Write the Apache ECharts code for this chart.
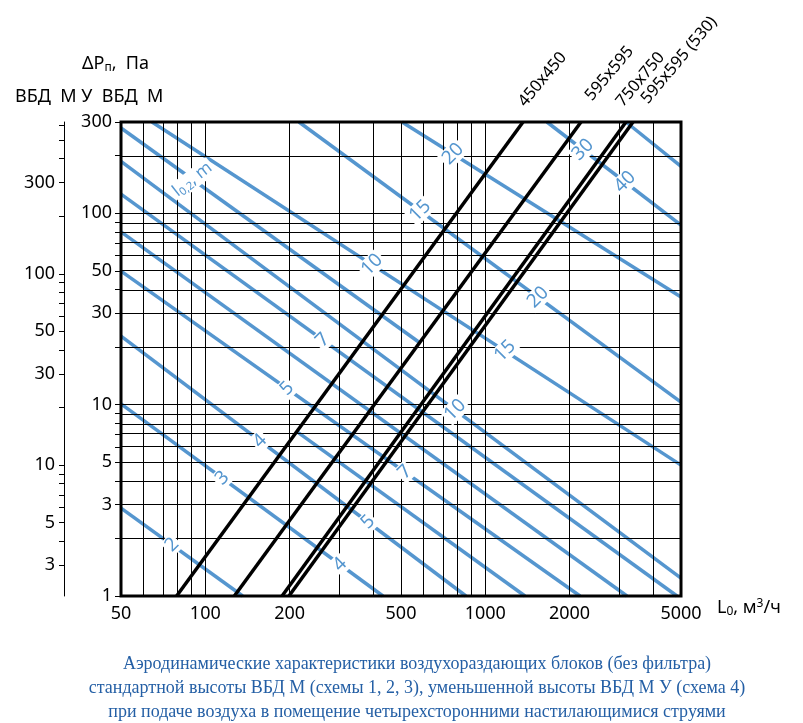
<!DOCTYPE html>
<html><head><meta charset="utf-8">
<script src="https://cdn.jsdelivr.net/npm/echarts@6/dist/echarts.min.js"></script>
<style>html,body{margin:0;padding:0;background:#fff}#c{width:803px;height:723px}</style>
</head><body><div id="c"></div>
<script>
// ---- data ----
const xLabelValues = [50, 100, 200, 500, 1000, 2000, 5000];
const xGridValues = [60, 70, 80, 90, 100, 200, 300, 400, 500, 600, 700, 800, 900, 1000, 2000, 3000, 4000];
const yLabelValues = [1, 3, 5, 10, 30, 50, 100, 300];
const yGridValues = [2, 3, 4, 5, 6, 7, 8, 9, 10, 20, 30, 40, 50, 60, 70, 80, 90, 100, 200];
const yTickValues = [1, 2, 3, 4, 5, 6, 7, 8, 9, 10, 20, 30, 40, 50, 60, 70, 80, 90, 100, 200, 300];
const y2LabelValues = [3, 5, 10, 30, 50, 100, 300];
const y2TickValues = [3, 4, 5, 6, 7, 8, 9, 10, 20, 30, 40, 50, 60, 70, 80, 90, 100, 200, 300, 400, 500, 600];
const xRange = [50, 5000];
const yRange = [1, 300];
const y2Range = [2.07, 621];

// unit characteristic lines: [L, dP] at the two ends
const unitNames = ['450x450', '595x595', '750x750', '595x595 (530)'];
const unitLines = [
  [[79, 1], [1364, 300]],
  [[127, 1], [2197, 300]],
  [[188, 1], [3180, 300]],
  [[199, 1], [3370, 300]]
];

// throw lines l0,2 (blue): [L, dP] at both ends
const throwLines = [
  [[50, 2.88], [136, 1]],
  [[50, 10.1], [431, 1]],
  [[50, 22.8], [853, 1]],
  [[50, 49.9], [2180, 1]],
  [[50, 80], [3206, 1]],
  [[50, 126], [4838, 1]],
  [[50, 187], [5000, 1.24]],
  [[50, 279], [585, 21]],
  [[213, 7.2], [1386, 1]],
  [[64.5, 300], [5000, 4.83]],
  [[216, 300], [5000, 10.3]],
  [[504, 300], [5000, 36.5]],
  [[1660, 300], [5000, 86.8]],
  [[3180, 300], [5000, 176]]
];
// labels on throw lines: [line index, text, L position]
const throwLabels = [
  [0, '2', 76], [1, '3', 115], [2, '4', 157], [3, '5', 196], [5, '7', 263], [9, '10', 394],
  [10, '15', 585], [11, '20', 767], [12, '30', 2233],
  [1, '4', 303], [2, '5', 381], [3, '7', 517], [6, '10', 780], [9, '15', 1176], [10, '20', 1543], [12, '40', 3155]
];
const throwTitleLine = 7, throwTitleL = 90;

// ---- helpers ----
const lg = Math.log10;
const P = p => [lg(p[0]), lg(p[1])];
function onLine(line, L) {
  const a = P(line[0]), b = P(line[1]);
  const t = (lg(L) - a[0]) / (b[0] - a[0]);
  return [lg(L), a[1] + t * (b[1] - a[1])];
}
const fmt = v => String(Math.round(Math.pow(10, v)));
const FONT = 'Noto Sans';
const BLUE = '#5596CF';
const unitLabelShift = [[5, -12], [14, -18], [0, -12], [18, -15]];

const series = [];
series.push({
  type: 'line', data: [], silent: true, z: 1, animation: false,
  markLine: {
    silent: true, symbol: ['none', 'none'], animation: false,
    label: { show: false },
    lineStyle: { color: '#000', width: 1, type: 'solid' },
    data: xGridValues.map(v => ({ xAxis: lg(v) })).concat(yGridValues.map(v => ({ yAxis: lg(v) })))
  }
});
throwLines.forEach(l => series.push({
  type: 'line', data: l.map(P), showSymbol: false, silent: true, z: 3, animation: false,
  lineStyle: { color: BLUE, width: 3.5 }
}));
unitLines.forEach(l => series.push({
  type: 'line', data: l.map(P), showSymbol: false, silent: true, z: 5, animation: false,
  lineStyle: { color: '#000', width: 3.5 }
}));

const option = {
  backgroundColor: '#fff',
  animation: false,
  grid: { left: 121, top: 122, width: 560, height: 474, show: true, borderColor: '#000', borderWidth: 3, backgroundColor: 'transparent', z: 10 },
  xAxis: {
    type: 'value', min: lg(xRange[0]), max: lg(xRange[1]),
    axisLine: { show: false }, splitLine: { show: false },
    axisTick: { show: false },
    axisLabel: { customValues: xLabelValues.map(lg), formatter: fmt, color: '#000', fontFamily: FONT, fontSize: 18, margin: 9 }
  },
  yAxis: [
    {
      type: 'value', min: lg(yRange[0]), max: lg(yRange[1]), position: 'left',
      axisLine: { show: false }, splitLine: { show: false },
      axisTick: { show: true, customValues: yTickValues.map(lg), length: 6, lineStyle: { color: '#000', width: 1 } },
      axisLabel: { customValues: yLabelValues.map(lg), formatter: fmt, color: '#000', fontFamily: FONT, fontSize: 18, margin: 9 }
    },
    {
      type: 'value', min: lg(y2Range[0]), max: lg(y2Range[1]), position: 'left', offset: 57,
      axisLine: { show: true, lineStyle: { color: '#000', width: 1 } }, splitLine: { show: false },
      axisTick: { show: true, customValues: y2TickValues.map(lg), length: 5, lineStyle: { color: '#000', width: 1 } },
      axisLabel: { customValues: y2LabelValues.map(lg), formatter: fmt, color: '#000', fontFamily: FONT, fontSize: 18, margin: 9 }
    }
  ],
  series: series
};
const chart = echarts.init(document.getElementById('c'), null, { renderer: 'canvas' });
chart.setOption(option);

// texts placed through the chart's own coordinate conversion
const toPx = v => chart.convertToPixel({ gridIndex: 0 }, v);
const graphics = [
  { type: 'text', left: 82, top: 55, style: { text: '{a|ΔP}{s|п}{a|,  Па}', rich: { a: { fontFamily: FONT, fontSize: 18, fill: '#000' }, s: { fontFamily: FONT, fontSize: 12, fill: '#000', padding: [8, 0, 0, 0] } } } },
  { type: 'text', left: 15, top: 88, style: { text: 'ВБД  М У  ВБД  М', fontFamily: FONT, fontSize: 18, fill: '#000' } },
  { type: 'text', left: 717, top: 598, style: { text: '{a|L}{s|0}{a|, м}{u|3}{a|/ч}', rich: { a: { fontFamily: FONT, fontSize: 18, fill: '#000' }, s: { fontFamily: FONT, fontSize: 12, fill: '#000', padding: [8, 0, 0, 0] }, u: { fontFamily: FONT, fontSize: 12, fill: '#000', padding: [0, 0, 8, 0] } } } },
  { type: 'text', x: 417, y: 652, style: { text: 'Аэродинамические характеристики воздухораздающих блоков (без фильтра)\nстандартной высоты ВБД М (схемы 1, 2, 3), уменьшенной высоты ВБД М У (схема 4)\nпри подаче воздуха в помещение четырехсторонними настилающимися струями', align: 'center', verticalAlign: 'top', fontFamily: 'Liberation Serif', fontSize: 18, lineHeight: 24, fill: '#245FA5' } }
];
unitLines.forEach((l, i) => {
  const p = toPx(P(l[1]));
  graphics.push({ type: 'text', x: p[0] + unitLabelShift[i][0], y: p[1] + unitLabelShift[i][1], rotation: 50 * Math.PI / 180, z: 20,
    style: { text: unitNames[i], align: 'left', verticalAlign: 'bottom', fontFamily: FONT, fontSize: 16.5, fill: '#000' } });
});
throwLabels.forEach(d => {
  const p = toPx(onLine(throwLines[d[0]], d[2]));
  graphics.push({ type: 'text', x: p[0], y: p[1], rotation: 45 * Math.PI / 180, z: 15,
    style: { text: d[1], align: 'center', verticalAlign: 'middle', fontFamily: FONT, fontSize: 19, fill: BLUE, backgroundColor: '#fff', padding: [0, 2] } });
});
{
  const p = toPx(onLine(throwLines[throwTitleLine], throwTitleL));
  graphics.push({ type: 'text', x: p[0], y: p[1], rotation: 38 * Math.PI / 180, z: 15,
    style: { text: '{a|l}{s|0,2}{a|, m}', align: 'center', verticalAlign: 'middle', backgroundColor: '#fff', padding: [0, 2],
      rich: { a: { fill: BLUE, fontFamily: FONT, fontSize: 17 }, s: { fill: BLUE, fontFamily: FONT, fontSize: 11, padding: [8, 0, 0, 0] } } } });
}
chart.setOption({ graphic: graphics });
</script></body></html>
